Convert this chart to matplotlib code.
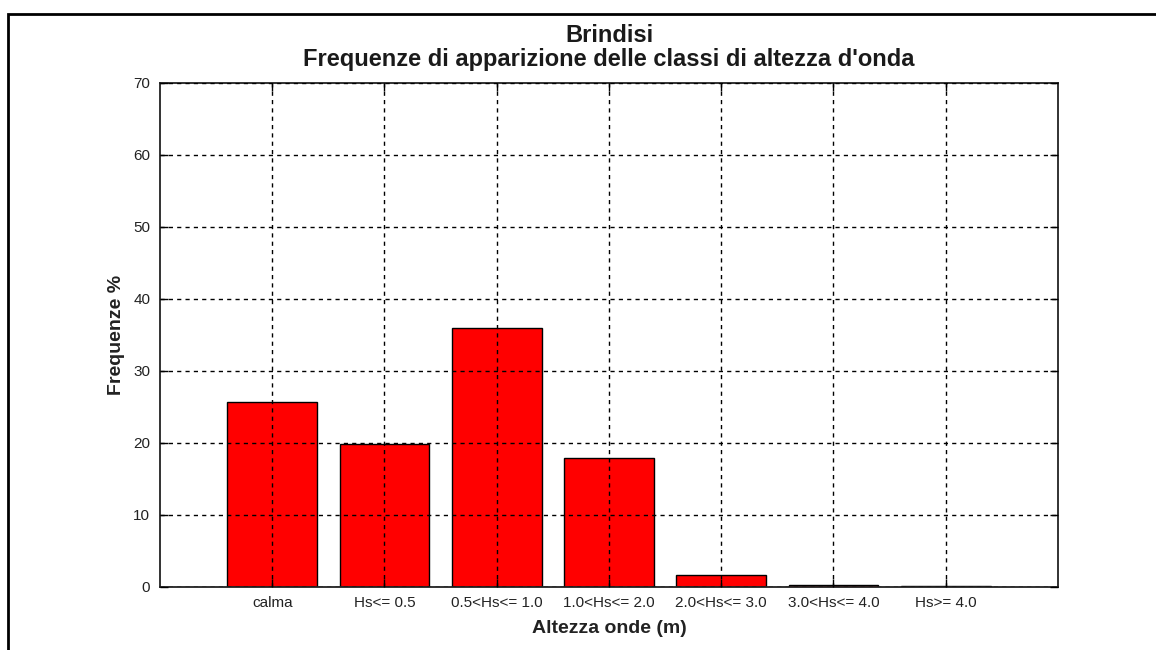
import numpy as np
import matplotlib
matplotlib.use('Agg')
import matplotlib.pyplot as plt
from matplotlib.patches import Rectangle

plt.rcParams['font.family'] = ['Liberation Sans', 'DejaVu Sans']

# classi di altezza d'onda e frequenze (%)
classi = ['calma', 'Hs<= 0.5', '0.5<Hs<= 1.0', '1.0<Hs<= 2.0',
          '2.0<Hs<= 3.0', '3.0<Hs<= 4.0', 'Hs>= 4.0']
frequenze = [25.7, 19.8, 35.9, 17.9, 1.6, 0.2, 0.1]
yticks = [0, 10, 20, 30, 40, 50, 60, 70]

fig = plt.figure(figsize=(11.56, 6.5), dpi=100)
ax = fig.add_axes([0.1384, 0.0974, 0.7768, 0.7754])

x = np.arange(1, len(classi) + 1)
ax.bar(x, frequenze, width=0.8, color='#ff0000', edgecolor='black', linewidth=1.0)

ax.set_xlim(0, 8)
ax.set_ylim(0, 70)
ax.set_xticks(x)
ax.set_xticklabels(classi, fontsize=11, color='#222222')
ax.set_yticks(yticks)
ax.set_yticklabels([str(v) for v in yticks], fontsize=11, color='#222222')

ax.tick_params(direction='in', length=6, width=1, top=True, right=True)
ax.tick_params(axis='x', pad=7)
ax.tick_params(axis='y', pad=7)
ax.set_axisbelow(False)
ax.grid(True, color='black', linestyle=(0, (3, 3)), linewidth=1.0)

for s in ax.spines.values():
    s.set_linewidth(1.3)
    s.set_color('#222222')

ax.set_title("Brindisi\nFrequenze di apparizione delle classi di altezza d'onda",
             fontsize=17, fontweight='bold', color='#1a1a1a', pad=12, linespacing=1.05)
ax.set_xlabel('Altezza onde (m)', fontsize=14, fontweight='bold', color='#222222', labelpad=7)
ax.set_ylabel('Frequenze %', fontsize=14, fontweight='bold', color='#222222', labelpad=6)

# cornice della figura
fig.patches.append(Rectangle((8 / 1156, -0.05), 1.2, (650 - 14) / 650 + 0.05,
                             transform=fig.transFigure, fill=False,
                             edgecolor='black', linewidth=2))

fig.savefig('out.png', dpi=100)
